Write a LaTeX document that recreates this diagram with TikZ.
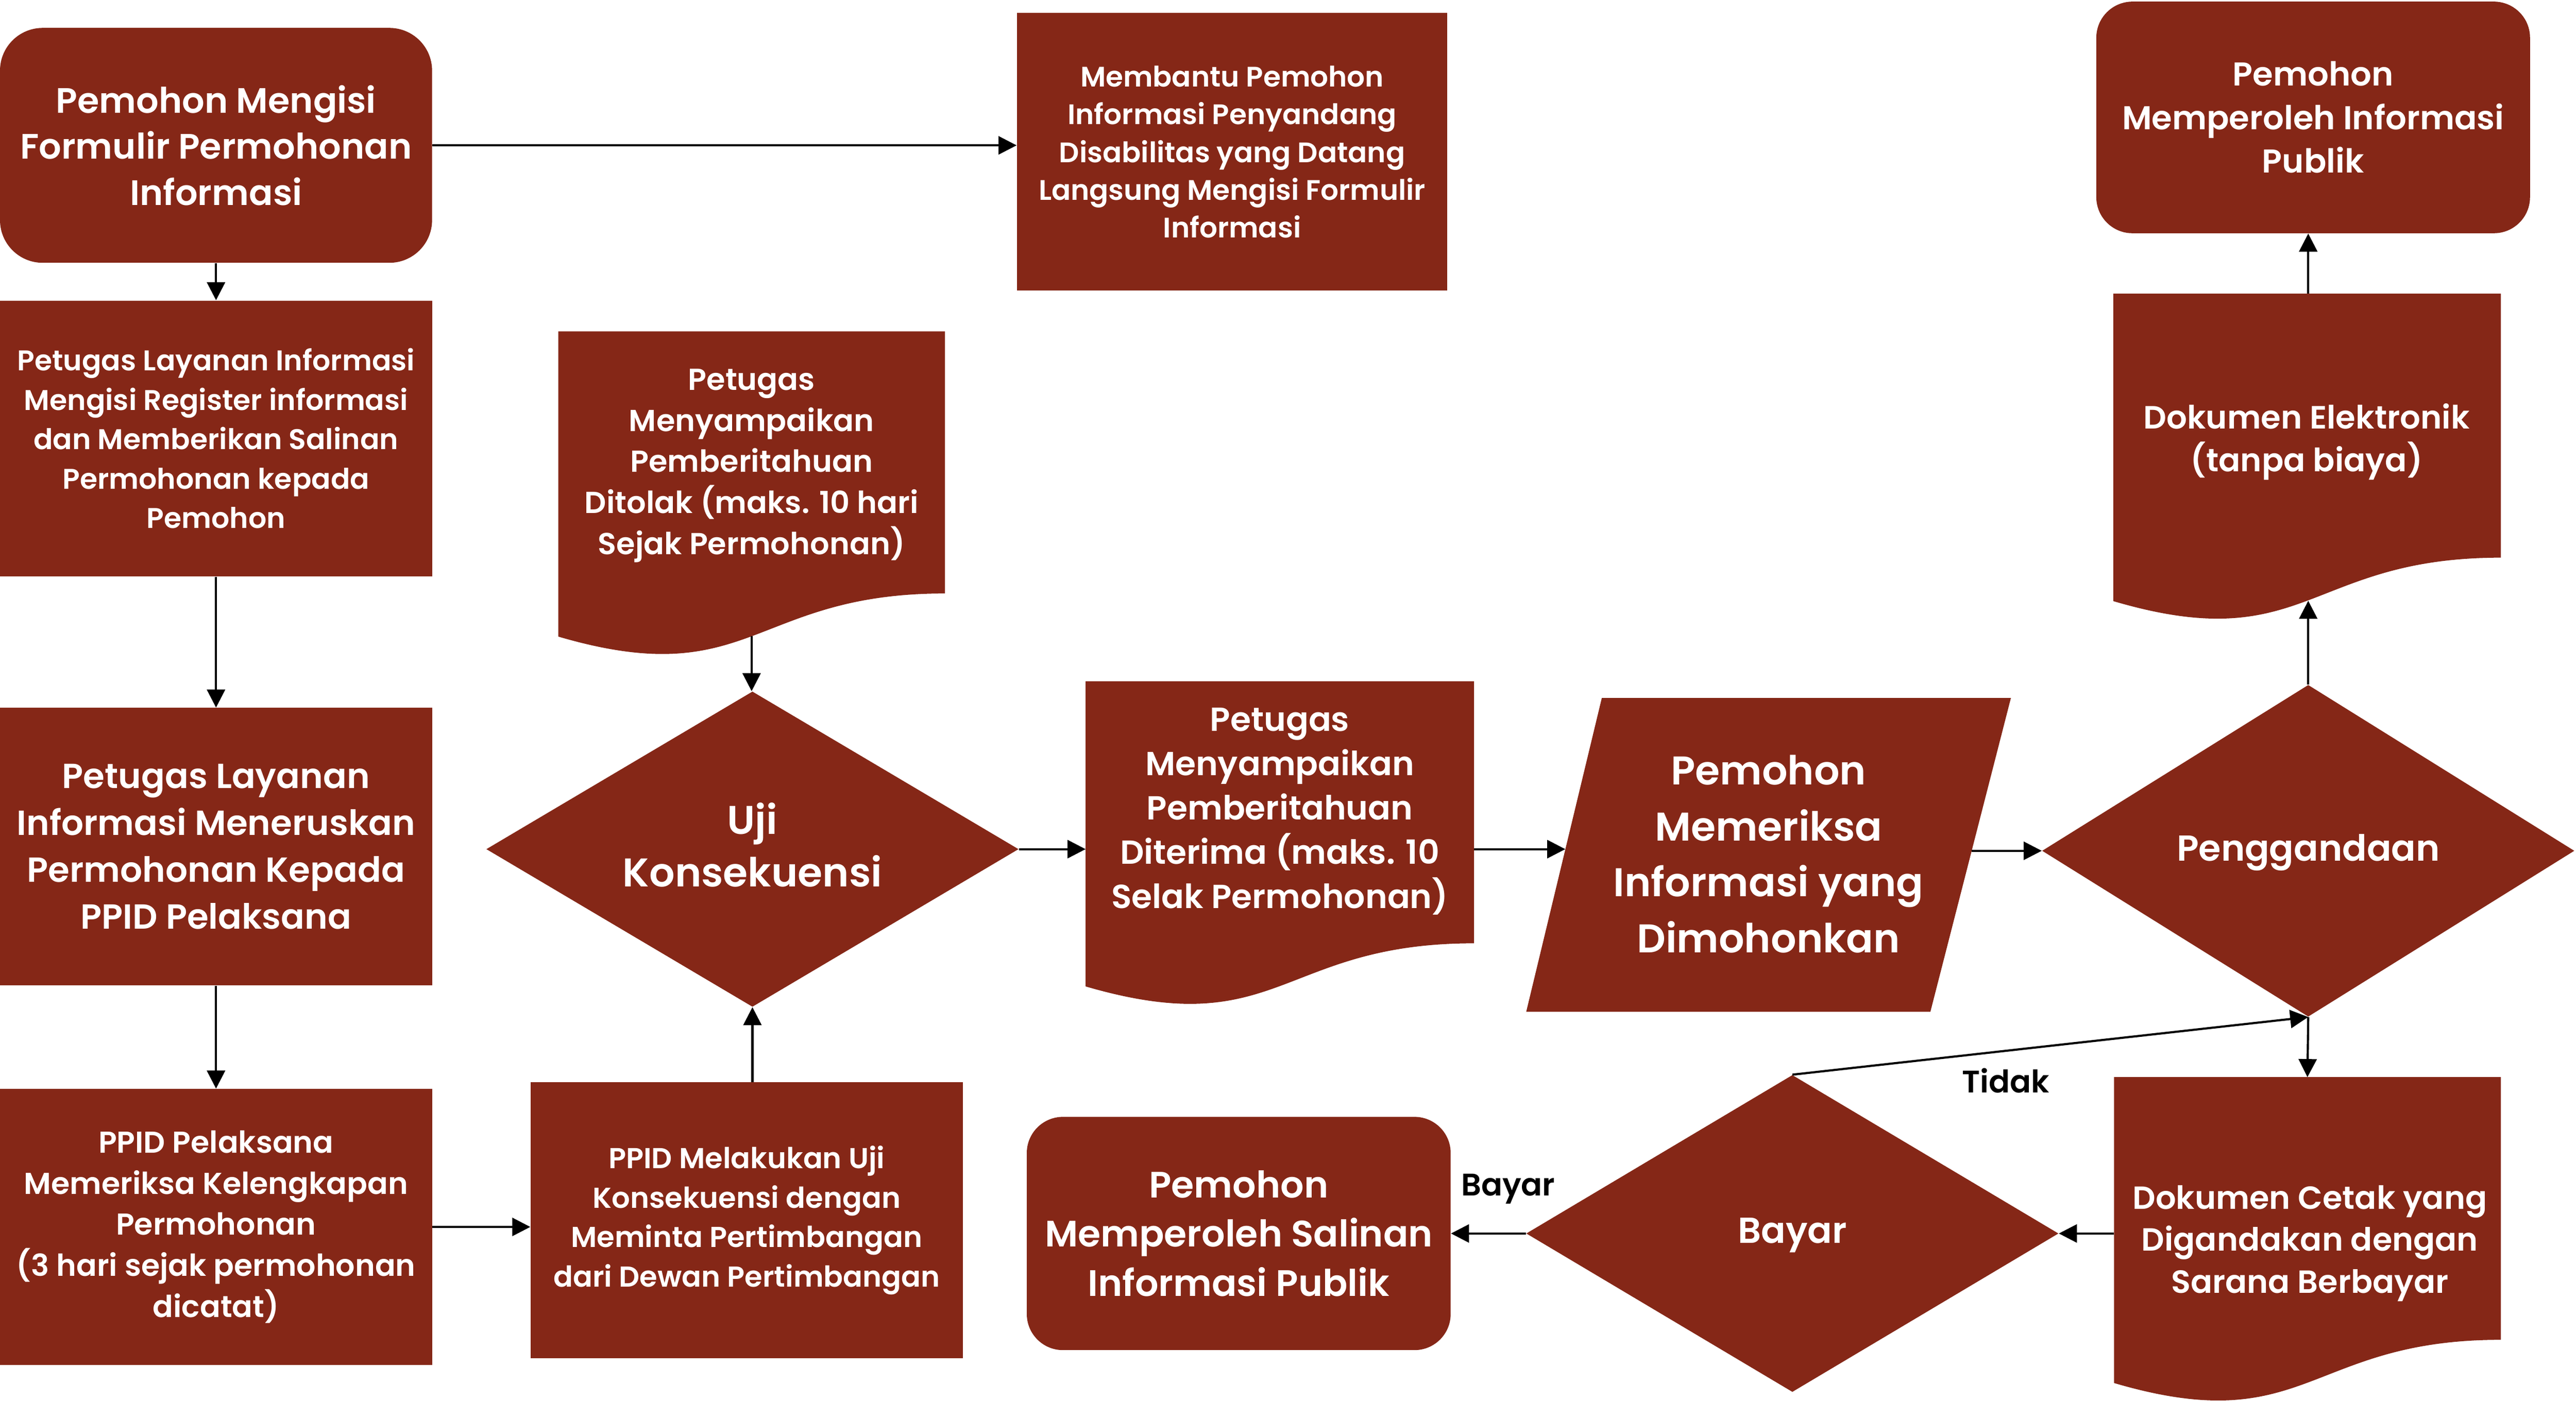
\documentclass[tikz,border=0pt]{standalone}
\usepackage{fontspec}
\setmainfont{Poppins}[BoldFont={* SemiBold}]
\usetikzlibrary{arrows.meta,shapes.geometric,calc}
\definecolor{brand}{RGB}{133,39,23}
\newcommand\fsz[2]{\fontsize{#1}{#2}\selectfont}
\begin{document}
\begin{tikzpicture}[x=1pt,y=-1pt,
  box/.style={fill=brand, text=white, inner sep=0pt, align=center, draw=none},
  rbox/.style={box, rounded corners=22pt},
  dia/.style={fill=brand, draw=none, inner sep=0pt, diamond},
  frame/.style={inner sep=0pt, draw=none},
  txt/.style={text=white, inner sep=0pt, align=center},
  lbl/.style={text=black, inner sep=0pt, font=\bfseries\fsz{19}{22}},
  arr/.style={-{Triangle[length=11pt,width=11pt]}, line width=1.3pt, draw=black},
]
\useasboundingbox (0,0) rectangle (1568,852.7);

% rectangles and rounded boxes
\node[rbox, rounded corners=26pt, minimum width=263pt, minimum height=143pt, font=\bfseries\fsz{21.5}{28}] (A) at (131.5,88.5)
  {Pemohon Mengisi\\Formulir Permohonan\\Informasi};
\node[box, minimum width=262pt, minimum height=169pt, font=\bfseries\fsz{17.2}{23}] (B) at (750,92.5)
  {Membantu Pemohon\\Informasi Penyandang\\Disabilitas yang Datang\\Langsung Mengisi Formulir\\Informasi};
\node[box, minimum width=263pt, minimum height=168pt, font=\bfseries\fsz{17.35}{24}] (C) at (131.5,267)
  {Petugas Layanan Informasi\\Mengisi Register informasi\\dan Memberikan Salinan\\Permohonan kepada\\Pemohon};
\node[box, minimum width=263pt, minimum height=169pt, font=\bfseries\fsz{21.2}{28.5}] (D) at (131.5,515.5)
  {Petugas Layanan\\Informasi Meneruskan\\Permohonan Kepada\\PPID Pelaksana};
\node[box, minimum width=263pt, minimum height=168pt, font=\bfseries\fsz{18.4}{25}] (E) at (131.5,747)
  {PPID Pelaksana\\Memeriksa Kelengkapan\\Permohonan\\(3 hari sejak permohonan\\dicatat)};
\node[box, minimum width=263pt, minimum height=168pt, font=\bfseries\fsz{17.55}{24}] (F) at (454.5,743)
  {PPID Melakukan Uji\\Konsekuensi dengan\\Meminta Pertimbangan\\dari Dewan Pertimbangan};
\node[rbox, minimum width=264pt, minimum height=141pt, font=\bfseries\fsz{20.1}{26.5}] (M) at (1408,71.5)
  {Pemohon\\Memperoleh Informasi\\Publik};
\node[rbox, minimum width=258pt, minimum height=142pt, font=\bfseries\fsz{22.4}{30}] (P) at (754,751)
  {Pemohon\\Memperoleh Salinan\\Informasi Publik};

% diamonds
\node[dia, minimum width=324pt, minimum height=192pt] (H) at (458,517) {};
\node[txt, font=\bfseries\fsz{24.4}{32}] (Ht) at (458,514.5) {Uji\\Konsekuensi};
\node[dia, minimum width=324pt, minimum height=202pt] (K) at (1405,518) {};
\node[txt, font=\bfseries\fsz{22}{30}] (Kt) at (1405,519) {Penggandaan};
\node[dia, minimum width=324pt, minimum height=193pt] (O) at (1091,751) {};
\node[txt, font=\bfseries\fsz{22}{30}] (Ot) at (1091,752) {Bayar};

% parallelogram
\coordinate (Jtl) at (975,425);
\coordinate (Jtr) at (1224,425);
\coordinate (Jbr) at (1175,616);
\coordinate (Jbl) at (929,616);
\fill[brand] (Jtl) -- (Jtr) -- (Jbr) -- (Jbl) -- cycle;
\node[txt, font=\bfseries\fsz{24.4}{34}] (J) at (1076.5,520) {Pemohon\\Memeriksa\\Informasi yang\\Dimohonkan};
\coordinate (Jw) at (952.8,517);
\coordinate (Je) at (1200,518);

% document shapes
\newcommand\docfill[1]{%
  \fill[brand] (#1.north west) -- (#1.north east) -- ($(#1.north east)!0.802!(#1.south east)$)
    .. controls ($(#1.north)!0.802!(#1.south)$) and ($(#1.north)!1.1075!(#1.south)$)
    .. ($(#1.north west)!0.934!(#1.south west)$) -- cycle;}
\node[frame, minimum width=235pt, minimum height=198.5pt] (G) at (457.5,301.25) {};
\docfill{G}
\node[txt, font=\bfseries\fsz{18.5}{25}] (Gt) at (457.5,283.5) {Petugas\\Menyampaikan\\Pemberitahuan\\Ditolak (maks. 10 hari\\Sejak Permohonan)};
\node[frame, minimum width=236pt, minimum height=198.5pt] (I) at (779,514.25) {};
\docfill{I}
\node[txt, font=\bfseries\fsz{20.3}{27}] (It) at (779,494) {Petugas\\Menyampaikan\\Pemberitahuan\\Diterima (maks. 10\\Selak Permohonan)};
\node[frame, minimum width=235.5pt, minimum height=200pt] (L) at (1404.25,279) {};
\docfill{L}
\node[txt, font=\bfseries\fsz{19.6}{26}] (Lt) at (1404,269) {Dokumen Elektronik\\(tanpa biaya)};
\node[frame, minimum width=235pt, minimum height=199pt] (N) at (1404.5,755.5) {};
\docfill{N}
\node[txt, font=\bfseries\fsz{19.5}{25.5}] (Nt) at (1406,757) {Dokumen Cetak yang\\Digandakan dengan\\Sarana Berbayar};
\coordinate (Lbot) at ($(L.north)!0.933!(L.south)$);
\coordinate (Gbot) at ($(G.north)!0.933!(G.south)$);

% connectors
\draw[arr] (A.east) -- (A.east -| B.west);
\draw[arr] (A.south) -- (C.north);
\draw[arr] (C.south) -- (D.north);
\draw[arr] (D.south) -- (E.north);
\draw[arr] (E.east) -- (E.east -| F.west);
\draw[arr] (H.south |- F.north) -- (H.south);
\draw[arr] (Gbot) -- (Gbot |- H.north);
\draw[arr] (H.east) -- (H.east -| I.west);
\draw[arr] (Jw -| I.east) -- (Jw);
\draw[arr] (Je) -- (K.west);
\draw[arr] (K.north) -- (K.north |- Lbot);
\draw[arr] (K.north |- L.north) -- (K.north |- M.south);
\draw[arr] (K.south) -- (N.north);
\draw[arr] (O.east -| N.west) -- (O.east);
\draw[arr] (O.west) -- (P.east);
\draw[arr] (O.north) -- (K.south);
\node[lbl] (bayarlbl) at (918,724) {Bayar};
\node[lbl] (tidaklbl) at (1221,658) {Tidak};
\end{tikzpicture}
\end{document}
